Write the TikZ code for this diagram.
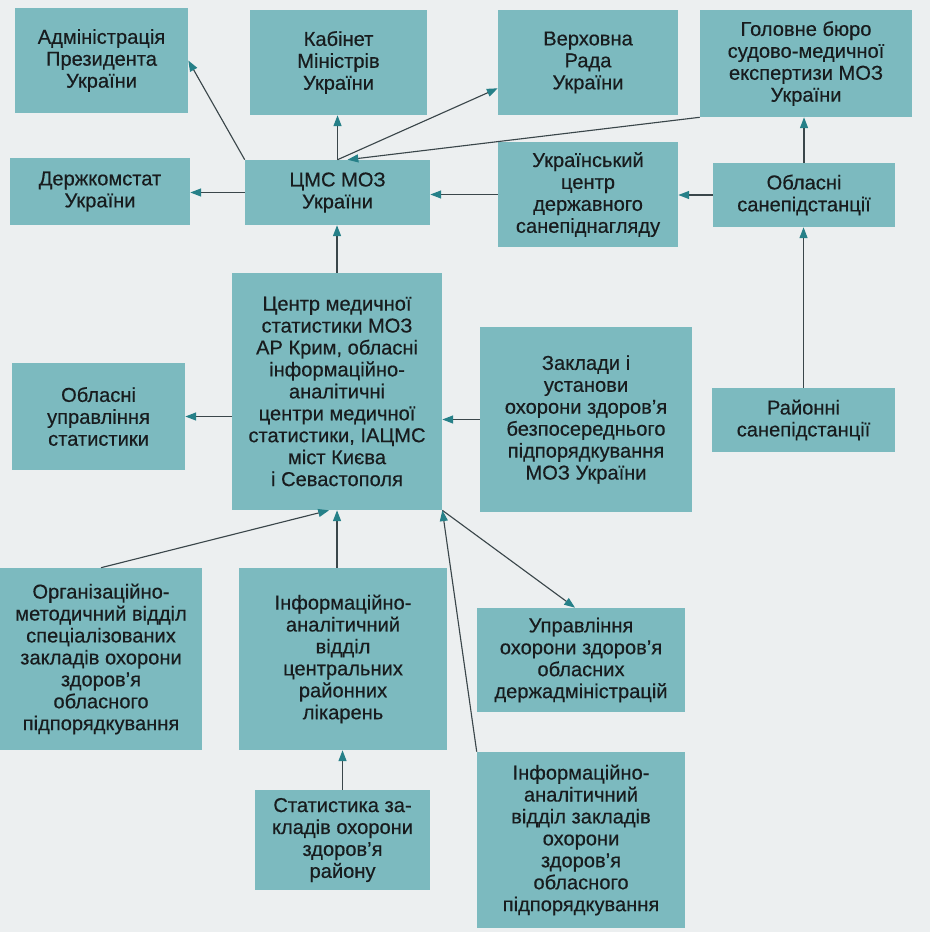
\documentclass[tikz,border=0pt]{standalone}
\usepackage{fontspec}
\setmainfont{Liberation Sans}
\newfontfamily\boxfont{Liberation Sans}[FakeBold=0.4]
\usepackage{tikz}
\usetikzlibrary{arrows.meta}
\definecolor{boxteal}{RGB}{124,186,191}
\definecolor{tipteal}{RGB}{38,128,136}
\definecolor{linegray}{RGB}{58,70,74}
\definecolor{pagebg}{RGB}{236,239,240}
\definecolor{inkblack}{RGB}{24,28,30}

\begin{document}
\begin{tikzpicture}[x=0.025cm, y=-0.025cm,
  unit/.style={fill=boxteal, text=inkblack, align=center, inner sep=0pt,
    font=\boxfont\fontsize{14.3}{15.6}\selectfont},
  link/.style={draw=linegray, line width=0.8pt,
    -{Triangle[length=0.27cm, width=0.2cm, color=tipteal]}}]
%\draw[help lines] (0,0) grid[step=50] (930,932);
\fill[pagebg] (0,0) rectangle (930,932);

 \node[unit, minimum width=4.325cm, minimum height=2.625cm] (admin) at (101.5,60.5)
  {Адміністрація\\Президента\\України};
 \node[unit, minimum width=4.425cm, minimum height=2.625cm] (cabinet) at (338.5,62.5)
  {Кабінет\\Міністрів\\України};
 \node[unit, minimum width=4.5cm, minimum height=2.625cm] (rada) at (588,62.5)
  {Верховна\\Рада\\України};
 \node[unit, minimum width=5.3cm, minimum height=2.675cm] (bureau) at (806,63.5)
  {Головне бюро\\судово-медичної\\експертизи МОЗ\\України};

 \node[unit, minimum width=4.5cm, minimum height=1.675cm] (derzh) at (100,191.5)
  {Держкомстат\\України};
 \node[unit, minimum width=4.625cm, minimum height=1.625cm] (cms) at (337.5,192.5)
  {ЦМС МОЗ\\України};
 \node[unit, minimum width=4.5cm, minimum height=2.625cm] (ucentre) at (588,194.5)
  {Український\\центр\\державного\\санепіднагляду};
 \node[unit, minimum width=4.55cm, minimum height=1.6cm] (oblsan) at (804,195)
  {Обласні\\санепідстанції};

 \node[unit, minimum width=5.25cm, minimum height=5.925cm] (centre) at (337,391.5)
  {Центр медичної\\статистики МОЗ\\АР Крим, обласні\\інформаційно-\\аналітичні\\центри медичної\\статистики, ІАЦМС\\міст Києва\\і Севастополя};
 \node[unit, minimum width=4.325cm, minimum height=2.675cm] (oblstat) at (98.5,416.5)
  {Обласні\\управління\\статистики};
 \node[unit, minimum width=5.3cm, minimum height=4.625cm] (zaklady) at (586,419.5)
  {Заклади і\\установи\\охорони здоров’я\\безпосереднього\\підпорядкування\\МОЗ України};
 \node[unit, minimum width=4.575cm, minimum height=1.6cm] (raisan) at (803.5,420)
  {Районні\\санепідстанції};

 \node[unit, minimum width=5.05cm, minimum height=4.55cm] (orgmet) at (101,659)
  {Організаційно-\\методичний відділ\\спеціалізованих\\закладів охорони\\здоров’я\\обласного\\підпорядкування};
 \node[unit, minimum width=5.2cm, minimum height=4.55cm] (crl) at (343,659)
  {Інформаційно-\\аналітичний\\відділ\\центральних\\районних\\лікарень};
 \node[unit, minimum width=5.2cm, minimum height=2.6cm] (uoz) at (581,660)
  {Управління\\охорони здоров’я\\обласних\\держадміністрацій};
 \node[unit, minimum width=4.375cm, minimum height=2.5cm] (district) at (342.5,840)
  {Статистика за-\\кладів охорони\\здоров’я\\району};
 \node[unit, minimum width=5.2cm, minimum height=4.4cm] (iaz) at (581,840)
  {Інформаційно-\\аналітичний\\відділ закладів\\охорони\\здоров’я\\обласного\\підпорядкування};

 % top rows
 \draw[link] (cms.north west) -- (admin.east);
 \draw[link] (cms.north) -- (cms.north |- cabinet.south);
 \draw[link] (cms.north) -- ([yshift=0.675cm]rada.south west);
 \draw[link] (bureau.south west) -- ([xshift=0.25cm]cms.north);
 \draw[link] (cms.west) -- (cms.west -| derzh.east);
 \draw[link] (ucentre.west) -- (ucentre.west -| cms.east);
 \draw[link] (oblsan.west) -- (oblsan.west -| ucentre.east);
 \draw[link] (oblsan.north) -- (oblsan.north |- bureau.south);
 \draw[link] (raisan.north) -- (raisan.north |- oblsan.south);

 % centre
 \draw[link] (centre.north) -- (centre.north |- cms.south);
 \draw[link] (oblstat.east -| centre.west) -- (oblstat.east);
 \draw[link] (zaklady.west) -- (zaklady.west -| centre.east);
 \draw[link] (orgmet.north) -- ([xshift=-0.2cm]centre.south);
 \draw[link] (centre.south |- crl.north) -- (centre.south);
 \draw[link] (centre.south east) -- ([xshift=-0.15cm]uoz.north);
 \draw[link] (iaz.north west) -- (centre.south east);
 \draw[link] (district.north) -- (district.north |- crl.south);

\end{tikzpicture}
\end{document}
